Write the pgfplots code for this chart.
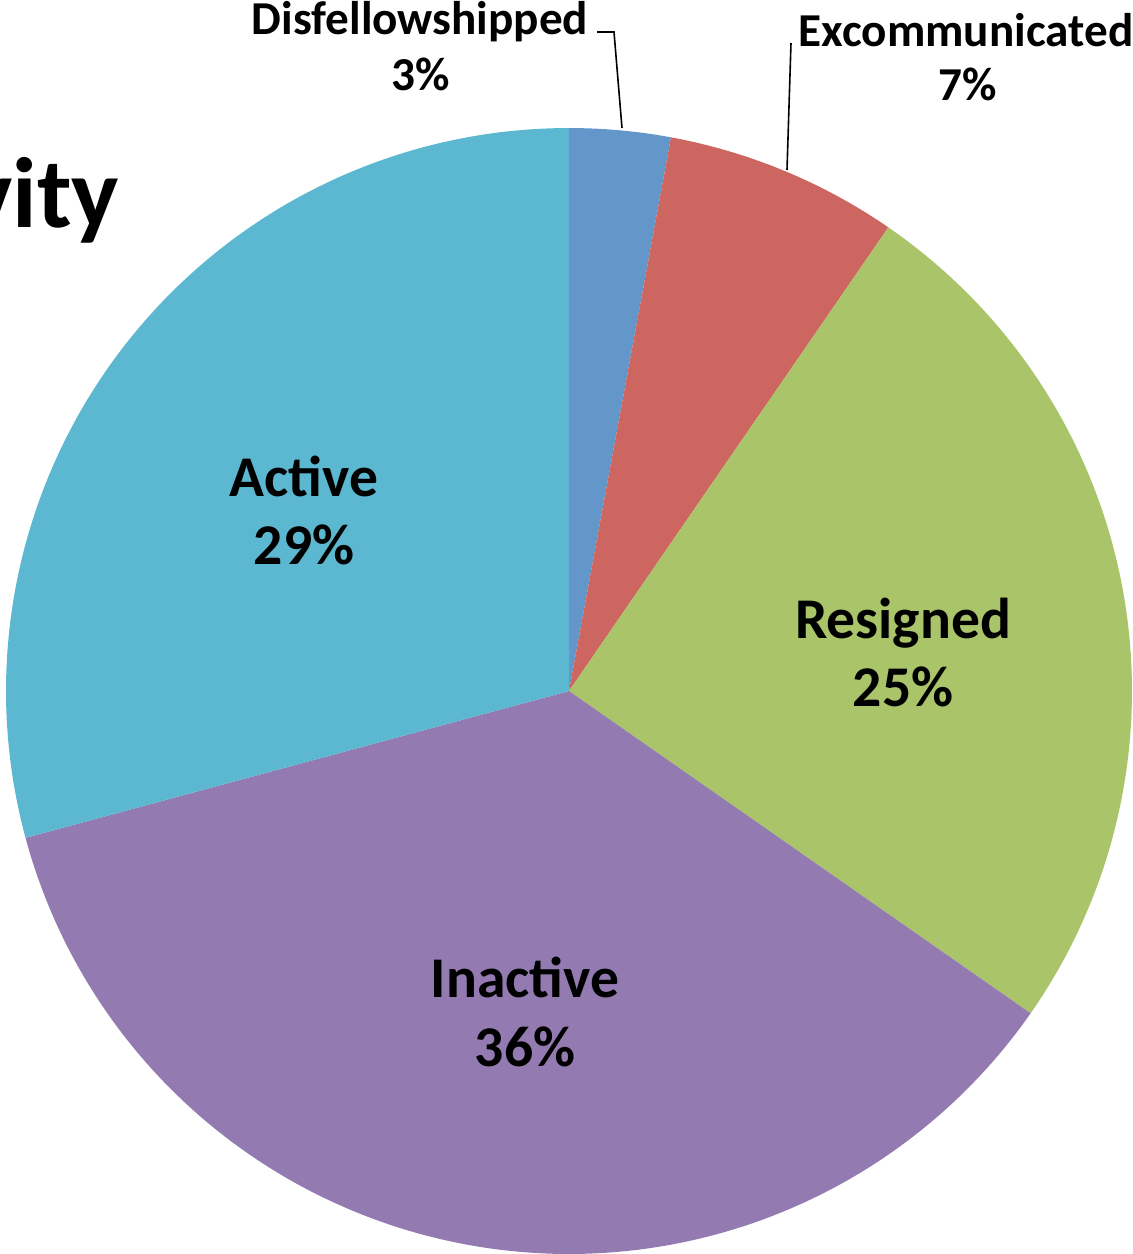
\documentclass[border=0pt]{standalone}
\usepackage{fontspec}
\setmainfont{Carlito}
\usepackage{pgfplots}
\pgfplotsset{compat=1.18}

\definecolor{cDis}{RGB}{99,150,201}
\definecolor{cExc}{RGB}{205,102,97}
\definecolor{cRes}{RGB}{170,196,106}
\definecolor{cIna}{RGB}{147,123,178}
\definecolor{cAct}{RGB}{91,184,208}

% shares in percent, clockwise from 12 o'clock
\def\vDis{2.9}
\def\vExc{6.7}
\def\vRes{25.1}
\def\vIna{36.1}
\def\vAct{29.2}
\pgfmathsetmacro{\aO}{90}
\pgfmathsetmacro{\aA}{\aO-3.6*\vDis}
\pgfmathsetmacro{\aB}{\aA-3.6*\vExc}
\pgfmathsetmacro{\aC}{\aB-3.6*\vRes}
\pgfmathsetmacro{\aD}{\aC-3.6*\vIna}
\pgfmathsetmacro{\aE}{\aD-3.6*\vAct}

\newcommand{\pieslice}[3]{%
  \addplot[fill=#3, draw=none, domain=#2:#1, samples=120, variable=\t]
    ({569+563*cos(t)}, {691-563*sin(t)}) -- (axis cs:569,691) -- cycle;}

\begin{document}
\begin{tikzpicture}
\path[use as bounding box, clip] (0,0) rectangle (283.25pt,313.5pt);
\begin{axis}[
    at={(0,0)}, anchor=south west,
    scale only axis,
    width=283.25pt, height=313.5pt,
    xmin=0, xmax=1133, ymin=0, ymax=1254,
    y dir=reverse,
    hide axis,
    clip=false,
]
\pieslice{\aO}{\aA}{cDis}
\pieslice{\aA}{\aB}{cExc}
\pieslice{\aB}{\aC}{cRes}
\pieslice{\aC}{\aD}{cIna}
\pieslice{\aD}{\aE}{cAct}

% leader lines
\draw[black, line width=0.4pt] (axis cs:597,32) -- (axis cs:614,32) -- (axis cs:622,128);
\draw[black, line width=0.4pt] (axis cs:791,43) -- (axis cs:787,170);

% title (cropped at the left edge, as in the source image)
\node[anchor=base east, inner sep=0pt, font=\fontsize{25pt}{28pt}\selectfont\bfseries]
  at (axis cs:120,227) {Activity};

% small outside labels
\begin{scope}[every node/.style={anchor=base, inner sep=0pt, font=\fontsize{11.8pt}{13pt}\selectfont\bfseries}]
\node at (axis cs:420,34) {Disfellowshipped};
\node at (axis cs:421,90) {3\%};
\node at (axis cs:966,46) {Excommunicated};
\node at (axis cs:968,100) {7\%};
\end{scope}

% inside labels
\begin{scope}[every node/.style={anchor=base, inner sep=0pt, font=\fontsize{14.4pt}{16pt}\selectfont\bfseries}]
\node at (axis cs:304,496) {Active};
\node at (axis cs:304,564) {29\%};
\node at (axis cs:903,638) {Resigned};
\node at (axis cs:903,706) {25\%};
\node at (axis cs:525,997) {Inactive};
\node at (axis cs:525,1066) {36\%};
\end{scope}
\end{axis}
\end{tikzpicture}
\end{document}
